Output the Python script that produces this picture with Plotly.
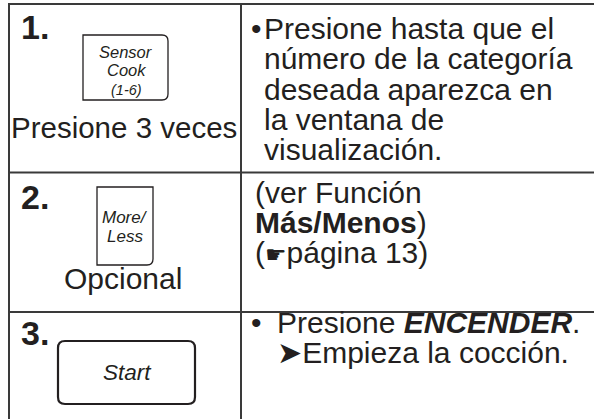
import plotly.graph_objects as go

# ---- content (text data) ----
step_numbers = ["1.", "2.", "3."]
step_captions = ["Presione 3 veces", "Opcional", ""]
button_labels = [["Sensor", "Cook", "(1-6)"], ["More/", "Less"], ["Start"]]
row1_lines = ["Presione hasta que el", "número de la categoría", "deseada aparezca en",
              "la ventana de", "visualización."]
row2_lines = ["(ver Función", "<b>Más/Menos</b>)",
              "(<span style='font-size:24px'>☛</span>página 13)"]
row3_lines = ["Presione <b><i>ENCENDER</i></b>.", "➤Empieza la cocción."]

W, H = 594, 419
INK = "#231f20"
LINE = "#3a3a3a"
FONT = "Liberation Sans, Arial, DejaVu Sans"
BTN_FONT = "Liberation Sans, Arial, sans-serif"

fig = go.Figure()
shapes = []
annotations = []


def line(x0, y0, x1, y1, w=2.0):
    shapes.append(dict(type="line", xref="x", yref="y", x0=x0, y0=y0, x1=x1, y1=y1,
                       line=dict(color=LINE, width=w)))


def rbox(x0, y0, x1, y1, tl, tr, br, bl, w=1.3):
    p = (f"M {x0+tl},{y0} L {x1-tr},{y0} Q {x1},{y0} {x1},{y0+tr} "
         f"L {x1},{y1-br} Q {x1},{y1} {x1-br},{y1} L {x0+bl},{y1} Q {x0},{y1} {x0},{y1-bl} "
         f"L {x0},{y0+tl} Q {x0},{y0} {x0+tl},{y0} Z")
    shapes.append(dict(type="path", xref="x", yref="y", path=p,
                       line=dict(color=INK, width=w), fillcolor="rgba(0,0,0,0)"))


def text(x, baseline, s, size, anchor="left", family=FONT, italic=False, k=0.35):
    annotations.append(dict(x=x, y=baseline - k * size, xref="x", yref="y", text=s,
                            showarrow=False, xanchor=anchor, yanchor="middle",
                            font=dict(family=family, size=size, color=INK,
                                      style="italic" if italic else "normal"),
                            borderpad=0))


# ---- grid lines ----
line(9, 4, W, 4)
line(9, 3, 9, H)
line(241, 4, 241, H)
line(9, 172.5, W, 172.5)
line(9, 312, W, 312)

# ---- step numbers ----
for num, bl in zip(step_numbers, [39, 209, 345]):
    text(20, bl, f"<b>{num}</b>", 34)

# ---- captions ----
text(123.5, 137.5, step_captions[0], 29.5, anchor="center")
text(123, 289, step_captions[1], 30, anchor="center")

# ---- buttons ----
rbox(83, 35, 168, 100, 0, 6, 6, 0)
for s, bl, sz in zip(button_labels[0], [58, 75.5, 95], [16.5, 16.5, 14.5]):
    text(126, bl, s, sz, anchor="center", family=BTN_FONT, italic=True)

rbox(97, 187, 153, 265, 0, 0, 6, 0)
for s, bl in zip(button_labels[1], [223, 242.5]):
    text(124.5, bl, s, 17, anchor="center", family=BTN_FONT, italic=True)

rbox(58, 341, 195, 404, 7, 7, 7, 7, w=2.2)
text(127.5, 380, button_labels[2][0], 22.5, anchor="center", family=BTN_FONT, italic=True)

# ---- right column ----
BS = 30
text(249.5, 39, "•", BS)
for i, s in enumerate(row1_lines):
    text(262.5, 39 + i * 30.3, s, BS)

for i, s in enumerate(row2_lines):
    text(254, 202.5 + i * 30.3, s, BS)

text(249.5, 333, "•", BS)
for i, s in enumerate(row3_lines):
    text(276, 333 + i * 30, s, BS)

fig.update_layout(
    width=W, height=H, margin=dict(l=0, r=0, t=0, b=0),
    paper_bgcolor="white", plot_bgcolor="white",
    xaxis=dict(range=[0, W], visible=False, fixedrange=True),
    yaxis=dict(range=[H, 0], visible=False, fixedrange=True),
    shapes=shapes, annotations=annotations, showlegend=False,
)

fig.write_html("out.html", config={"displayModeBar": False},
               post_script="document.body.style.margin='0';")
